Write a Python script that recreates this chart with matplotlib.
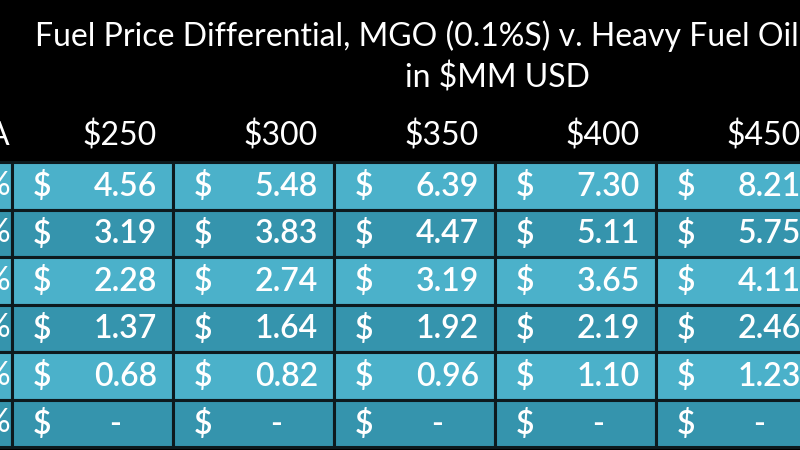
import matplotlib
matplotlib.use("Agg")
import matplotlib.pyplot as plt
from matplotlib.patches import Rectangle

title1 = "Fuel Price Differential, MGO (0.1%S) v. Heavy Fuel Oil"
title2 = "in $MM USD"
row_labels = ["%", "%", "%", "%", "%", "%"]
col_labels = ["$250", "$300", "$350", "$400", "$450"]
values = [
    ["4.56", "5.48", "6.39", "7.30", "8.21"],
    ["3.19", "3.83", "4.47", "5.11", "5.75"],
    ["2.28", "2.74", "3.19", "3.65", "4.11"],
    ["1.37", "1.64", "1.92", "2.19", "2.46"],
    ["0.68", "0.82", "0.96", "1.10", "1.23"],
    ["-", "-", "-", "-", "-"],
]

plt.rcParams['font.family'] = ['Lato', 'DejaVu Sans']
fig = plt.figure(figsize=(8, 4.5), dpi=100, facecolor='black')
ax = fig.add_axes([0, 0, 1, 1])
ax.set_xlim(0, 800)
ax.set_ylim(450, 0)
ax.axis('off')
ax.set_facecolor('black')

light, dark = '#4bb1ca', '#3594ad'
col_x = [-148, 12, 173, 334, 495, 656]
col_w = [160, 161, 161, 161, 161, 161]
row_top, row_h = 162, 47.5
fs = 23

ax.text(35, 36, title1, color='white', fontsize=23, va='center', ha='left')
ax.text(405, 78, title2, color='white', fontsize=23, va='center', ha='left')

ax.text(10, 136, "A", color='white', fontsize=fs, va='center', ha='right')
for j, lab in enumerate(col_labels):
    x = col_x[j + 1]
    ax.text(x + 145, 136, lab, color='white', fontsize=fs, va='center', ha='right')

for i, row in enumerate(values):
    y = row_top + i * row_h
    c = light if i % 2 == 0 else dark
    for j in range(6):
        ax.add_patch(Rectangle((col_x[j], y), col_w[j], row_h, facecolor=c,
                               edgecolor='#0d1a1e', linewidth=2.2))
    ax.text(10, y + row_h / 2, row_labels[i], color='white', fontsize=fs,
            va='center', ha='right')
    for j, v in enumerate(row):
        x = col_x[j + 1]
        ax.text(x + 21, y + row_h / 2 + 1, "$", color='white', fontsize=fs,
                va='center', ha='left', fontweight='semibold')
        if v == "-":
            ax.text(x + 103, y + row_h / 2 + 1, v, color='white', fontsize=fs,
                    va='center', ha='center', fontweight='semibold')
        else:
            ax.text(x + 145, y + row_h / 2 + 1, v, color='white', fontsize=fs,
                    va='center', ha='right', fontweight='semibold')

fig.savefig("out.png", dpi=100, facecolor='black')
